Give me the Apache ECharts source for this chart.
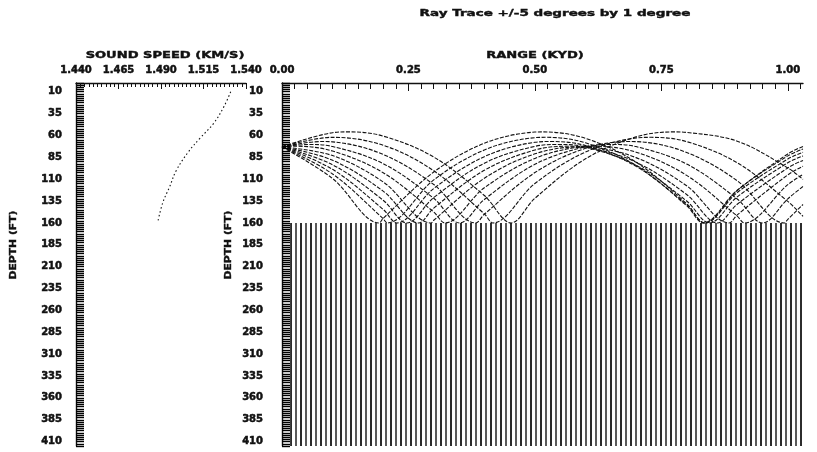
<!DOCTYPE html>
<html><head><meta charset="utf-8">
<script src="https://cdn.jsdelivr.net/npm/echarts@6/dist/echarts.min.js"></script>
<style>html,body{margin:0;padding:0;background:#fff}#c{width:817px;height:452px}</style>
</head><body><div id="c"></div>
<script>
// ---- text ----
const chartTitle = 'Ray Trace +/-5 degrees by 1 degree';
const speedAxisName = 'SOUND SPEED (KM/S)';
const rangeAxisName = 'RANGE (KYD)';
const depthAxisName = 'DEPTH (FT)';

// ---- axis ticks ----
const depthTicks = [10,35,60,85,110,135,160,185,210,235,260,285,310,335,360,385,410];
const speedTicks = [1.440,1.465,1.490,1.515,1.540];
const rangeTicks = [0,0.25,0.50,0.75,1.00];
const depthMin = 0, depthMax = 415;
const speedMin = 1.44, speedMax = 1.54;
const rangeMin = 0, rangeMax = 1.03;

// ---- sound speed profile (depth ft, speed km/s) ----
const profileDepth = [10,27,46,63,79,100,119,137,160];
const profileSpeed = [1.531,1.527,1.521,1.513,1.506,1.499,1.495,1.491,1.488];

// ---- bottom (seabed region) ----
const bottomDepth = 160;
const seabedStart = 0.016;

// ---- rays: [range kyd, depth ft] ----
const rayUp5 = [[0,73],[0.1,56.8],[0.131,55.9],[0.2,60.7],[0.3,84.7],[0.4,128.6],[0.453,160],[0.5,131.8],[0.6,86.7],[0.7,61.6],[0.775,55.9],[0.8,56.5],[0.9,66.5],[1.0,97.1],[1.03,110.2]];
const rayUp4 = [[0,73],[0.1,62.1],[0.2,71.2],[0.3,100.4],[0.4,149.6],[0.417,160],[0.5,114.9],[0.6,78.9],[0.7,62.9],[0.73,62.1],[0.8,67.0],[0.9,91.2],[1.0,135.4],[1.03,152.5]];
const rayUp3 = [[0,73],[0.078,66.9],[0.1,67.3],[0.2,81.7],[0.3,116.1],[0.383,160],[0.4,150.1],[0.5,102.4],[0.6,74.7],[0.688,66.9],[0.7,67.0],[0.8,79.4],[0.9,111.8],[0.993,160],[1.0,155.9],[1.03,138.9]];
const rayUp2 = [[0,73],[0.052,70.3],[0.1,72.6],[0.2,92.2],[0.3,131.8],[0.351,160],[0.4,133.2],[0.5,93.0],[0.6,72.8],[0.651,70.3],[0.7,72.7],[0.8,92.7],[0.9,132.6],[0.95,160],[1.0,132.4],[1.03,118.3]];
const rayUp1 = [[0,73],[0.026,72.3],[0.1,77.8],[0.2,102.6],[0.3,147.5],[0.322,160],[0.4,119.8],[0.5,86.2],[0.6,72.6],[0.618,72.3],[0.7,79.1],[0.8,105.6],[0.9,152.2],[0.914,160],[1.0,116.2],[1.03,104.6]];
const rayFlat = [[0,73],[0.1,83.0],[0.2,113.1],[0.295,160],[0.3,156.9],[0.4,108.9],[0.5,81.0],[0.589,73],[0.6,73.1],[0.7,85.3],[0.8,117.5],[0.884,160],[0.9,150.8],[1.0,105.0],[1.03,95.1]];
const rayDn1 = [[0,73],[0.1,88.3],[0.2,123.6],[0.27,160],[0.3,143.0],[0.4,99.8],[0.5,76.6],[0.565,72.3],[0.6,73.5],[0.7,90.5],[0.8,127.5],[0.861,160],[0.9,138.6],[1.0,97.0],[1.03,88.5]];
const rayDn2 = [[0,73],[0.1,93.5],[0.2,134.0],[0.247,160],[0.3,131.0],[0.4,91.7],[0.5,72.4],[0.546,70.3],[0.6,73.2],[0.7,94.0],[0.8,134.9],[0.845,160],[0.9,130.2],[1.0,91.2],[1.03,83.4]];
const rayDn3 = [[0,73],[0.1,98.7],[0.2,144.5],[0.227,160],[0.3,120.6],[0.4,84.2],[0.5,67.8],[0.532,66.9],[0.6,71.6],[0.7,95.3],[0.8,139.1],[0.836,160],[0.9,125.2],[1.0,86.9],[1.03,79.3]];
const rayDn4 = [[0,73],[0.1,104.0],[0.2,155.0],[0.208,160],[0.3,110.8],[0.4,76.6],[0.5,62.5],[0.521,62.1],[0.6,68.4],[0.7,94.3],[0.8,140.3],[0.833,160],[0.9,122.5],[1.0,83.3],[1.03,75.5]];
const rayDn5 = [[0,73],[0.1,109.2],[0.192,160],[0.2,154.7],[0.3,101.8],[0.4,68.9],[0.5,56.1],[0.514,55.9],[0.6,63.3],[0.7,90.6],[0.8,137.9],[0.836,160],[0.9,122.9],[1.0,81.1],[1.03,72.5]];
const rays = [rayUp5, rayUp4, rayUp3, rayUp2, rayUp1, rayFlat, rayDn1, rayDn2, rayDn3, rayDn4, rayDn5];

// ---- styles ----
const FONT = 'DejaVu Sans';
const INK = '#111';

function hatchPattern() {
  const c = document.createElement('canvas');
  c.width = 10; c.height = 8;
  const g = c.getContext('2d');
  g.fillStyle = '#fff'; g.fillRect(0, 0, 10, 8);
  g.fillStyle = '#2c2c2c'; g.fillRect(0, 0, 2, 8);
  g.fillStyle = '#5a5a5a'; g.fillRect(5, 0, 2, 8);
  return c;
}

const chart = echarts.init(document.getElementById('c'), null, {renderer: 'canvas'});

const labelStyle = {color: INK, fontFamily: FONT, fontWeight: 'bold', fontSize: 10, textBorderColor: INK, textBorderWidth: 0.5};

function depthAxis(gridIndex, margin) {
  return {
    type: 'value', gridIndex, inverse: true, min: depthMin, max: depthMax, interval: 2.5, z: 5,
    axisLine: {show: true, lineStyle: {color: INK, width: 1.4}},
    axisTick: {show: true, inside: true, length: 8, lineStyle: {color: '#000', width: 1.4}},
    axisLabel: Object.assign({margin, customValues: depthTicks, formatter: v => String(v)}, labelStyle),
    splitLine: {show: false}
  };
}

const series = [];
series.push({
  type: 'line', xAxisIndex: 0, yAxisIndex: 0, symbol: 'none', smooth: 0.4, silent: true,
  data: profileDepth.map((d, i) => [profileSpeed[i], d]),
  lineStyle: {color: INK, width: 1.1, type: [1.5, 2.5]}
});
rays.forEach(r => series.push({
  type: 'line', xAxisIndex: 1, yAxisIndex: 1, symbol: 'none', smooth: 0.35, silent: true,
  data: r, lineStyle: {color: '#111', width: 1.1, type: [4, 1.5]}
}));
series.push({
  type: 'line', xAxisIndex: 1, yAxisIndex: 1, symbol: 'none', data: [], silent: true, z: -1,
  markArea: {
    silent: true, z: -1,
    itemStyle: {color: {image: hatchPattern(), repeat: 'repeat'}},
    data: [[{coord: [seabedStart, bottomDepth]}, {coord: [rangeMax, depthMax]}]]
  }
});

const nameFont = 'bold 9px "DejaVu Sans"';
function nameText(text, x, y, rot, sx) {
  return {type: 'text', x, y, rotation: rot, scaleX: sx, silent: true,
    style: {text, x: 0, y: 0, align: 'center', verticalAlign: 'middle', font: nameFont, fill: INK, stroke: INK, lineWidth: 0.4}};
}

chart.setOption({
  animation: false,
  backgroundColor: '#fff',
  grid: [
    {left: 76, top: 83, width: 170, height: 363},
    {left: 282, top: 83, width: 521, height: 363}
  ],
  xAxis: [
    {
      type: 'value', gridIndex: 0, position: 'top', min: speedMin, max: speedMax, interval: 0.025, z: 5,
      axisLine: {show: true, lineStyle: {color: INK, width: 1.4}},
      axisTick: {show: true, inside: true, length: 6, lineStyle: {color: INK}},
      minorTick: {show: true, splitNumber: 10, length: 4, lineStyle: {color: INK}},
      axisLabel: Object.assign({margin: 8, customValues: speedTicks, formatter: v => v.toFixed(3)}, labelStyle),
      splitLine: {show: false}
    },
    {
      type: 'value', gridIndex: 1, position: 'top', min: rangeMin, max: rangeMax, interval: 0.25, z: 5,
      axisLine: {show: true, lineStyle: {color: INK, width: 1.4}},
      axisTick: {show: true, inside: true, length: 8, customValues: rangeTicks, lineStyle: {color: INK}},
      minorTick: {show: true, splitNumber: 10, length: 6, lineStyle: {color: INK}},
      axisLabel: Object.assign({margin: 8, customValues: rangeTicks, formatter: v => v.toFixed(2)}, labelStyle),
      splitLine: {show: false}
    }
  ],
  yAxis: [depthAxis(0, 14), depthAxis(1, 19)],
  graphic: [
    nameText(chartTitle, 555, 14, 0, 1.5),
    nameText(speedAxisName, 165, 56, 0, 1.45),
    nameText(rangeAxisName, 535, 56, 0, 1.45),
    nameText(depthAxisName, 14, 245, Math.PI / 2, 1.2),
    nameText(depthAxisName, 229, 245, Math.PI / 2, 1.2)
  ],
  series
});
</script>
</body></html>
